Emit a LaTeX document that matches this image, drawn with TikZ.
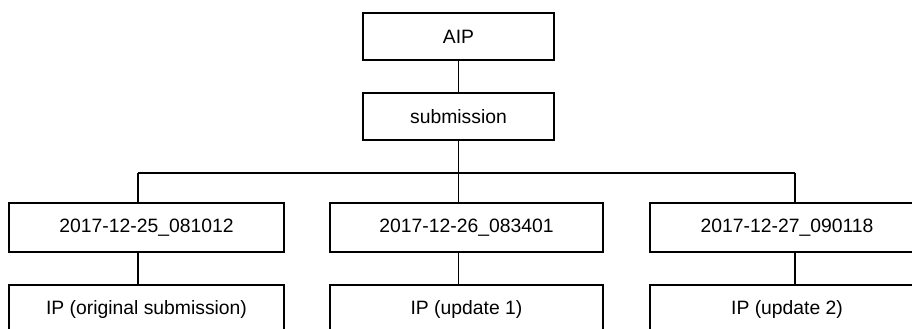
\documentclass[tikz,border=0pt]{standalone}
\usepackage{fontspec}
\setmainfont{Liberation Sans}
\begin{document}
\begin{tikzpicture}[x=0.75pt,y=-0.75pt,
  box/.style={draw, line width=1pt, rectangle, inner sep=0pt, font=\fontsize{14.5}{17}\selectfont},
  conn/.style={draw, line width=1pt}]
\useasboundingbox (0,0) rectangle (912,328);
\clip (0,0) rectangle (912,328);
\node[box, minimum width=143.25pt, minimum height=35.25pt] (aip) at (458.5,36.5) {AIP};
\node[box, minimum width=143.25pt, minimum height=35.25pt] (sub) at (458.5,116.5) {submission};
\node[box, minimum width=206.25pt, minimum height=36.75pt] (d1) at (146.5,227.5) {2017-12-25\_081012};
\node[box, minimum width=204.75pt, minimum height=36.75pt] (d2) at (466.5,227.5) {2017-12-26\_083401};
\node[box, minimum width=205.5pt, minimum height=36.75pt] (d3) at (787,227.5) {2017-12-27\_090118};
\node[box, minimum width=206.25pt, minimum height=36pt] (ip1) at (146.5,309) {IP (original submission)};
\node[box, minimum width=204.75pt, minimum height=36pt] (ip2) at (466.5,309) {IP (update 1)};
\node[box, minimum width=205.5pt, minimum height=36pt] (ip3) at (787,309) {IP (update 2)};
\coordinate (busL) at (138,173);
\coordinate (busM) at (458.5,173);
\coordinate (busR) at (795,173);
\draw[conn] (aip.south) -- (sub.south |- sub.north);
\draw[conn] (sub.south) -- (busM);
\draw[conn] (busL) -- (busR);
\draw[conn] (busL) -- (busL |- d1.north);
\draw[conn] (busM) -- (busM |- d2.north);
\draw[conn] (busR) -- (busR |- d3.north);
\draw[conn] (busL |- d1.south) -- (busL |- ip1.north);
\draw[conn] (busM |- d2.south) -- (busM |- ip2.north);
\draw[conn] (busR |- d3.south) -- (busR |- ip3.north);
\end{tikzpicture}
\end{document}
